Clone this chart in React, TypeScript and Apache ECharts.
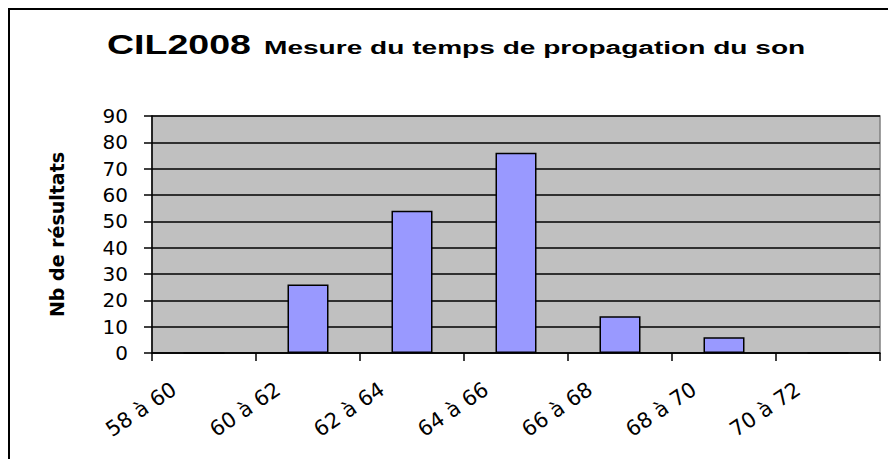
import React, { useEffect, useRef } from "react";
import * as echarts from "echarts";

const categories: string[] = ["58 à 60", "60 à 62", "62 à 64", "64 à 66", "66 à 68", "68 à 70", "70 à 72"];
const counts: number[] = [0, 26, 54, 76, 14, 6, 0];
const yMin = 0;
const yMax = 90;
const yStep = 10;
const titleMain = "CIL2008";
const titleSub = "Mesure du temps de propagation du son";
const yName = "Nb de résultats";

export default function App() {
  const ref = useRef<HTMLDivElement>(null);
  useEffect(() => {
    if (!ref.current) return;
    const chart = echarts.init(ref.current, undefined, { renderer: "svg" });
    chart.setOption({
      animation: false,
      backgroundColor: "#ffffff",
      graphic: [
        {
          type: "rect",
          z: -10,
          shape: { x: 9, y: 9, width: 900, height: 480 },
          style: { fill: "none", stroke: "#000000", lineWidth: 2 },
          silent: true,
        },
        {
          type: "text",
          x: 107,
          y: 44,
          scaleX: 1.34,
          style: {
            text: titleMain,
            font: "bold 28px 'Liberation Sans', Arial, sans-serif",
            fill: "#000000",
            textAlign: "left",
            textVerticalAlign: "middle",
          },
        },
        {
          type: "text",
          x: 264,
          y: 48,
          scaleX: 1.56,
          style: {
            text: titleSub,
            font: "bold 18px 'Liberation Sans', Arial, sans-serif",
            fill: "#000000",
            textAlign: "left",
            textVerticalAlign: "middle",
          },
        },
      ],
      grid: {
        left: 152,
        right: 8,
        top: 116,
        bottom: 106,
        show: true,
        backgroundColor: "#C0C0C0",
        borderColor: "#808080",
        borderWidth: 1.5,
      },
      xAxis: {
        type: "category",
        data: categories,
        axisLine: { show: true, lineStyle: { color: "#000000", width: 1.5 } },
        axisTick: { show: true, length: 8, lineStyle: { color: "#000000", width: 1.5 } },
        axisLabel: {
          interval: 0,
          rotate: 34,
          margin: 14,
          padding: [0, 36, 0, 0],
          fontFamily: "'DejaVu Sans', sans-serif",
          fontSize: 21,
          color: "#000000",
        },
        splitLine: { show: false },
      },
      yAxis: {
        type: "value",
        min: yMin,
        max: yMax,
        interval: yStep,
        name: yName,
        nameLocation: "middle",
        nameGap: 86,
        nameRotate: 90,
        nameTextStyle: {
          fontFamily: "'DejaVu Sans', sans-serif",
          fontWeight: "bold",
          fontSize: 19,
          color: "#000000",
        },
        axisLine: { show: true, lineStyle: { color: "#000000", width: 1.5 } },
        axisTick: { show: true, length: 8, lineStyle: { color: "#000000", width: 1.5 } },
        axisLabel: {
          margin: 24,
          fontFamily: "'DejaVu Sans', sans-serif",
          fontSize: 20,
          color: "#000000",
        },
        splitLine: { show: true, lineStyle: { color: "#000000", width: 1.5 } },
      },
      series: [
        {
          type: "bar",
          data: counts,
          barWidth: 41,
          itemStyle: { color: "#9999FF", borderColor: "#000000", borderWidth: 1.5 },
        },
      ],
    });
    return () => chart.dispose();
  }, []);
  return <div ref={ref} style={{ position: "fixed", left: 0, top: 0, width: 888, height: 459 }} />;
}
